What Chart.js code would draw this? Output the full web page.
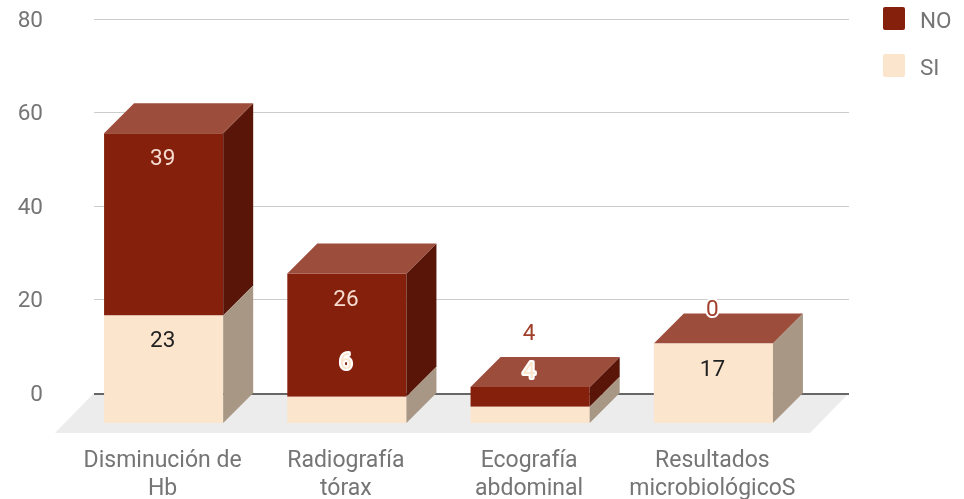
<!DOCTYPE html>
<html>
<head>
<meta charset="utf-8">
<style>
body { margin: 0; background: #fff; }
canvas { display: block; filter: blur(0.4px); }
</style>
<script src="https://cdn.jsdelivr.net/npm/chart.js@4"></script>
</head>
<body>
<canvas id="graf" width="964" height="499"></canvas>
<script>
const categories = [['Disminución de', 'Hb'], ['Radiografía', 'tórax'], ['Ecografía', 'abdominal'], ['Resultados', 'microbiológicoS']];
// bar heights, the labels show them rounded
const siValues = [23, 5.6, 3.5, 17];
const noValues = [39, 26.4, 4.2, 0];
const yTicks = [0, 20, 40, 60, 80];

// the original chart puts its value labels at odd heights, read as axis values
const siLabelHeights = [11.5, 6.8, 4.9, 5.3];
const noLabelHeights = [50.5, 20.3, 13, 18];

const FONT = 'Roboto, sans-serif';
const GREY = '#757575';
const depth = 30;
const sideColors = ['#a89785', '#591508'];
const topColor = '#9c4d3c';
const siLabelColors = ['#212121', '#fce5cd', '#fce5cd', '#212121'];
const noLabelColors = ['#f6dcd0', '#f6dcd0', '#a23f2b', '#a23f2b'];
const siHalo = [false, true, true, false];
const noHalo = [false, false, false, true];

const scene = {
    id: 'scene',
    afterLayout(chart) {
        let l = chart.legend;
        l.left = 859; l.right = 964; l.top = -17; l.bottom = 110;
    },
    beforeDatasetsDraw(chart) {
        let c = chart.ctx, y = chart.scales.y;
        // floor
        let zero = y.getPixelForValue(0);
        c.fillStyle = '#ececec';
        c.beginPath();
        c.moveTo(94, zero); c.lineTo(849, zero); c.lineTo(810, zero + 40); c.lineTo(55, zero + 40);
        c.closePath(); c.fill();
        // grid on the back wall
        yTicks.forEach(t => {
            let py = Math.floor(y.getPixelForValue(t));
            c.fillStyle = t === 0 ? '#666666' : '#cccccc';
            c.fillRect(94, py, 755, t === 0 ? 2 : 1);
        });
        // bars stand on the front of the floor
        c.save();
        c.translate(0, depth);
    },
    afterDatasetDraw(chart, args) {
        let c = chart.ctx, top = args.index === chart.data.datasets.length - 1;
        chart.getDatasetMeta(args.index).data.forEach(b => {
            let x2 = b.x + b.width / 2, x1 = b.x - b.width / 2;
            if (b.base - b.y > 0) {
                c.fillStyle = sideColors[args.index];
                c.beginPath();
                c.moveTo(x2, b.y); c.lineTo(x2 + depth, b.y - depth);
                c.lineTo(x2 + depth, b.base - depth); c.lineTo(x2, b.base);
                c.closePath(); c.fill();
            }
            if (top) {
                c.fillStyle = topColor;
                c.beginPath();
                c.moveTo(x1, b.y); c.lineTo(x1 + depth, b.y - depth);
                c.lineTo(x2 + depth, b.y - depth); c.lineTo(x2, b.y);
                c.closePath(); c.fill();
            }
        });
    },
    afterDatasetsDraw(chart) {
        let c = chart.ctx, y = chart.scales.y;
        c.restore();
        c.font = '22.5px ' + FONT;
        c.textAlign = 'center';
        c.textBaseline = 'middle';
        let bars = chart.getDatasetMeta(0).data;
        let put = (vals, heights, colors, halos) => vals.forEach((v, i) => {
            let px = bars[i].x - 1, py = y.getPixelForValue(heights[i]) + 2;
            let txt = Math.round(v);
            if (halos[i]) {
                c.strokeStyle = '#ffffff';
                c.lineWidth = 4;
                c.lineJoin = 'round';
                c.strokeText(txt, px, py);
            }
            c.fillStyle = colors[i];
            c.fillText(txt, px, py);
        });
        put(noValues, noLabelHeights, noLabelColors, noHalo);
        put(siValues, siLabelHeights, siLabelColors, siHalo);
    },
    afterDraw(chart) {
        // legend text sits lower and further from its box than the library puts it
        let c = chart.ctx, l = chart.legend, pad = l.options.labels.padding;
        c.font = '22.5px ' + FONT;
        c.textAlign = 'left';
        c.textBaseline = 'middle';
        c.fillStyle = GREY;
        l.legendItems.forEach((it, i) => {
            c.fillText(it.text, l.left + pad + 37, l.top + pad + i * (23 + pad) + 15);
        });
    }
};

document.addEventListener("DOMContentLoaded", ()=>{
    let cont = document.getElementById('graf').getContext('2d');
    let graf = new Chart(cont, {
        type: 'bar',
        plugins: [scene],
        data: {
            labels: categories,
            datasets: [
                { label: 'SI', data: siValues, backgroundColor: '#fce5cd', clip: false },
                { label: 'NO', data: noValues, backgroundColor: '#85200c', clip: false },
            ]
        },
        options: {
            responsive: false,
            animation: false,
            categoryPercentage: 0.65,
            barPercentage: 1,
            layout: { padding: { top: 19, right: 159 } },
            plugins: {
                tooltip: { enabled: false },
                legend: {
                    position: 'chartArea',
                    align: 'start',
                    reverse: true,
                    labels: {
                        boxWidth: 22,
                        boxHeight: 23,
                        padding: 24,
                        color: 'rgba(0,0,0,0)',
                        font: { family: FONT, size: 22.5 },
                        useBorderRadius: true,
                        borderRadius: 2,
                        generateLabels(chart) {
                            let items = Chart.defaults.plugins.legend.labels.generateLabels(chart);
                            items.forEach(it => { it.lineWidth = 0; });
                            return items;
                        }
                    }
                }
            },
            scales: {
                x: {
                    stacked: true,
                    afterFit(s) { s.height = 106; },
                    grid: { display: false, drawTicks: false },
                    border: { display: false },
                    ticks: {
                        padding: 54,
                        labelOffset: -1,
                        autoSkip: false,
                        maxRotation: 0,
                        color: GREY,
                        font: { family: FONT, size: 23, lineHeight: 1.22 }
                    }
                },
                y: {
                    stacked: true,
                    min: 0,
                    max: 80,
                    afterFit(s) { s.width = 72; },
                    grid: { display: false, drawTicks: true, tickLength: 26 },
                    border: { display: false },
                    ticks: {
                        stepSize: 20,
                        padding: 3,
                        labelOffset: 2,
                        color: GREY,
                        font: { family: FONT, size: 22.5 }
                    }
                }
            }
        }
    });
});
</script>
</body>
</html>
